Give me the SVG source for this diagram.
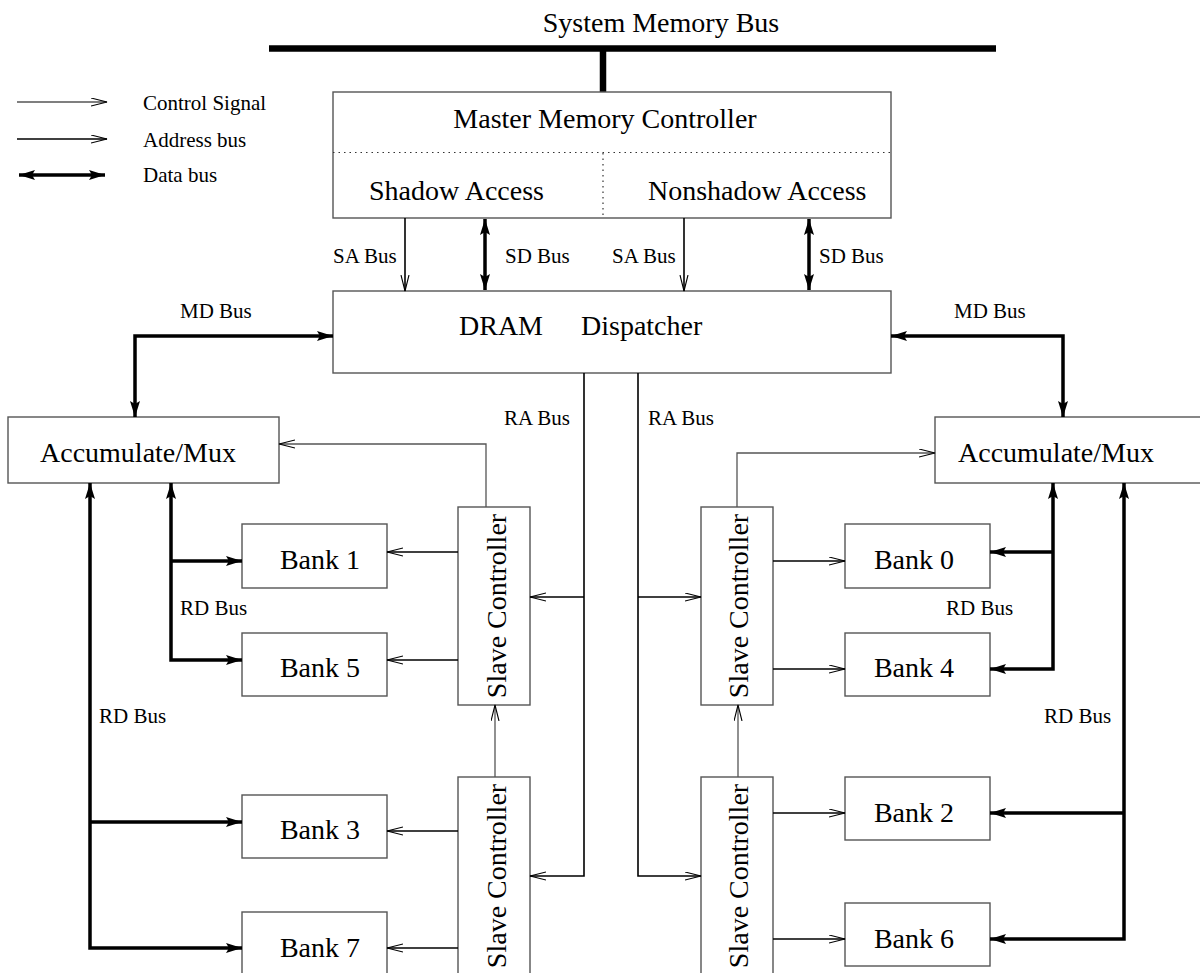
<svg xmlns="http://www.w3.org/2000/svg" width="1200" height="973" viewBox="0 0 1200 973">
  <style>
    .box { fill: #fff; stroke: #555; stroke-width: 1.4; }
    .dot { fill: none; stroke: #333; stroke-width: 1.2; stroke-dasharray: 1.5 4; }
    .big { font-family: "Liberation Serif", "Times New Roman", serif; font-size: 28px; fill: #000; }
    .small { font-family: "Liberation Serif", "Times New Roman", serif; font-size: 21px; fill: #000; }
    .ctl { fill: none; stroke: #555; stroke-width: 1.3; marker-end: url(#open); }
    .adr { fill: none; stroke: #000; stroke-width: 1.6; marker-end: url(#open); }
    .dat { fill: none; stroke: #000; stroke-width: 3.5; marker-end: url(#solid); }
    .dat2 { fill: none; stroke: #000; stroke-width: 3.5; marker-start: url(#solid); marker-end: url(#solid); }
    .bus { fill: none; stroke: #000; stroke-width: 6.5; }
  </style>
  <defs>
    <marker id="open" markerUnits="userSpaceOnUse" markerWidth="18" markerHeight="10" refX="16" refY="4.5" orient="auto-start-reverse">
      <path d="M0,0.5 L16,4.5 L0,8.5" fill="none" stroke="#000" stroke-width="1.1"/>
    </marker>
    <marker id="solid" markerUnits="userSpaceOnUse" markerWidth="18" markerHeight="12" refX="16" refY="5.5" orient="auto-start-reverse">
      <path d="M0,0.5 L16,5.5 L0,10.5 L3,5.5 z" fill="#000"/>
    </marker>
  </defs>

  <!-- legend -->
  <g id="legend">
    <line x1="17" y1="102" x2="107" y2="102" class="ctl"/>
    <text x="143" y="110" class="small">Control Signal</text>
    <line x1="17" y1="139" x2="107" y2="139" class="adr"/>
    <text x="143" y="147" class="small">Address bus</text>
    <line x1="19" y1="175" x2="105" y2="175" class="dat2"/>
    <text x="143" y="182" class="small">Data bus</text>
  </g>

  <!-- system bus -->
  <g id="system-bus">
    <line x1="269" y1="48.5" x2="996" y2="48.5" class="bus"/>
    <line x1="603" y1="48" x2="603" y2="92" class="bus"/>
    <text x="661" y="32" class="big" text-anchor="middle">System Memory Bus</text>
  </g>

  <!-- master controller -->
  <g id="master">
    <rect x="333" y="92" width="558" height="126" class="box"/>
    <line x1="333" y1="152.5" x2="891" y2="152.5" class="dot"/>
    <line x1="603" y1="153" x2="603" y2="218" class="dot"/>
    <text x="605" y="128" class="big" text-anchor="middle">Master Memory Controller</text>
    <text x="369" y="200" class="big">Shadow Access</text>
    <text x="648" y="200" class="big">Nonshadow Access</text>
  </g>

  <!-- dispatcher -->
  <g id="dispatcher">
    <rect x="333" y="291" width="558" height="82" class="box"/>
    <text x="459" y="335" class="big">DRAM</text>
    <text x="581" y="335" class="big">Dispatcher</text>
  </g>

  <g id="acc-left">
    <rect x="8" y="417" width="271" height="66" class="box"/>
    <text x="40" y="462" class="big">Accumulate/Mux</text>
  </g>
  <g id="acc-right">
    <rect x="935" y="417" width="280" height="66" class="box"/>
    <text x="958" y="462" class="big">Accumulate/Mux</text>
  </g>

  <g id="slave-ul">
    <rect x="458" y="507" width="72" height="198" class="box"/>
    <text transform="translate(506,606) rotate(-90)" class="big" text-anchor="middle">Slave Controller</text>
  </g>
  <g id="slave-ll">
    <rect x="458" y="777" width="72" height="210" class="box"/>
    <text transform="translate(506,876) rotate(-90)" class="big" text-anchor="middle">Slave Controller</text>
  </g>
  <g id="slave-ur">
    <rect x="701" y="507" width="72" height="198" class="box"/>
    <text transform="translate(748,606) rotate(-90)" class="big" text-anchor="middle">Slave Controller</text>
  </g>
  <g id="slave-lr">
    <rect x="701" y="777" width="72" height="210" class="box"/>
    <text transform="translate(748,876) rotate(-90)" class="big" text-anchor="middle">Slave Controller</text>
  </g>

  <g id="bank1">
    <rect x="242" y="524" width="145" height="64" class="box"/>
    <text x="320" y="569" class="big" text-anchor="middle">Bank 1</text>
  </g>
  <g id="bank5">
    <rect x="242" y="633" width="145" height="63" class="box"/>
    <text x="320" y="677" class="big" text-anchor="middle">Bank 5</text>
  </g>
  <g id="bank3">
    <rect x="242" y="795" width="145" height="63" class="box"/>
    <text x="320" y="839" class="big" text-anchor="middle">Bank 3</text>
  </g>
  <g id="bank7">
    <rect x="242" y="912" width="145" height="75" class="box"/>
    <text x="320" y="957" class="big" text-anchor="middle">Bank 7</text>
  </g>
  <g id="bank0">
    <rect x="845" y="524" width="145" height="64" class="box"/>
    <text x="914" y="569" class="big" text-anchor="middle">Bank 0</text>
  </g>
  <g id="bank4">
    <rect x="845" y="633" width="145" height="63" class="box"/>
    <text x="914" y="677" class="big" text-anchor="middle">Bank 4</text>
  </g>
  <g id="bank2">
    <rect x="845" y="777" width="145" height="63" class="box"/>
    <text x="914" y="822" class="big" text-anchor="middle">Bank 2</text>
  </g>
  <g id="bank6">
    <rect x="845" y="903" width="145" height="63" class="box"/>
    <text x="914" y="948" class="big" text-anchor="middle">Bank 6</text>
  </g>

  <!-- connectors -->
  <g id="connectors">
    <!-- master to dispatcher -->
    <path d="M405,218 V291" class="adr"/>
    <path d="M485,219 V290" class="dat2"/>
    <path d="M684,218 V291" class="adr"/>
    <path d="M809,219 V290" class="dat2"/>

    <!-- memory data buses -->
    <path d="M333,336 H135 V417" class="dat2"/>
    <path d="M891,336 H1063 V417" class="dat2"/>

    <!-- row address buses -->
    <path d="M584,373 V876 H530" class="adr"/>
    <path d="M584,597 H530" class="adr"/>
    <path d="M638,373 V876 H701" class="adr"/>
    <path d="M638,597 H701" class="adr"/>

    <!-- control from slaves -->
    <path d="M486,507 V444 H279" class="ctl"/>
    <path d="M737,507 V453 H935" class="ctl"/>
    <path d="M495,777 V705" class="ctl"/>
    <path d="M738,777 V705" class="ctl"/>

    <!-- slave to banks -->
    <path d="M458,552 H387" class="adr"/>
    <path d="M458,660 H387" class="adr"/>
    <path d="M458,831 H387" class="adr"/>
    <path d="M458,948 H387" class="adr"/>
    <path d="M773,561 H845" class="adr"/>
    <path d="M773,669 H845" class="adr"/>
    <path d="M773,813 H845" class="adr"/>
    <path d="M773,939 H845" class="adr"/>

    <!-- bank data buses -->
    <path d="M242,948 H90 V483" class="dat2"/>
    <path d="M90,822 H242" class="dat"/>
    <path d="M242,660 H171 V483" class="dat2"/>
    <path d="M171,561 H242" class="dat"/>
    <path d="M990,669 H1053 V483" class="dat2"/>
    <path d="M1053,552 H990" class="dat"/>
    <path d="M990,939 H1124 V483" class="dat2"/>
    <path d="M1124,813 H990" class="dat"/>
  </g>

  <g id="labels">
    <text x="333" y="263" class="small">SA Bus</text>
    <text x="505" y="263" class="small">SD Bus</text>
    <text x="612" y="263" class="small">SA Bus</text>
    <text x="819" y="263" class="small">SD Bus</text>
    <text x="180" y="318" class="small">MD Bus</text>
    <text x="954" y="318" class="small">MD Bus</text>
    <text x="504" y="425" class="small">RA Bus</text>
    <text x="648" y="425" class="small">RA Bus</text>
    <text x="180" y="615" class="small">RD Bus</text>
    <text x="99" y="723" class="small">RD Bus</text>
    <text x="946" y="615" class="small">RD Bus</text>
    <text x="1044" y="723" class="small">RD Bus</text>
  </g>
</svg>
